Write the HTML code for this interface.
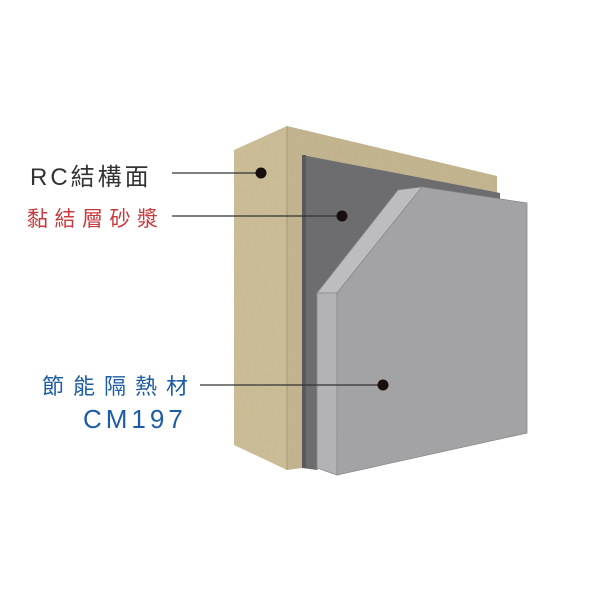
<!DOCTYPE html>
<html><head><meta charset="utf-8"><style>
html,body{margin:0;padding:0;background:#fff;width:600px;height:600px;overflow:hidden}
text{font-family:"Liberation Sans","Noto Sans CJK TC",sans-serif}
</style></head><body>
<svg width="600" height="600" viewBox="0 0 600 600" xmlns="http://www.w3.org/2000/svg">
<defs>
<filter id="n"><feTurbulence type="fractalNoise" baseFrequency="0.9" numOctaves="2" result="t"/><feColorMatrix in="t" type="matrix" values="0 0 0 0 0.6  0 0 0 0 0.55  0 0 0 0 0.4  0 0 0 0.35 0" result="c"/><feComposite in="c" in2="SourceGraphic" operator="in" result="m"/><feMerge><feMergeNode in="SourceGraphic"/><feMergeNode in="m"/></feMerge></filter>
</defs>
<polygon points="234,150 287,126 287,470 234,445" fill="#c9ba92" filter="url(#n)"/>
<polygon points="287,126 497,176 497,215 302,468 287,470" fill="#bfb088" filter="url(#n)"/>
<line x1="287" y1="126" x2="287" y2="470" stroke="#a89a72" stroke-width="1"/>
<polygon points="302,155 500,193 500,240 317,470 302,468" fill="#6d6d6f"/>
<polygon points="302,155 306,155 306,468 302,468" fill="#59595b"/>
<polygon points="317,293 398,190 422,187 337,293" fill="#bdbdbf" stroke="#8a8a8c" stroke-width="0.8"/>
<polygon points="317,293 337,293 337,475 317,468" fill="#b3b3b5" stroke="#8a8a8c" stroke-width="0.8"/>
<polygon points="337,293 422,187 527,203 527,433 337,475" fill="#a3a3a5" stroke="#8a8a8c" stroke-width="0.8"/>
<g stroke="#333" stroke-width="1.3">
<line x1="172" y1="173" x2="261" y2="173"/>
<line x1="172" y1="216" x2="342" y2="216"/>
<line x1="200" y1="385" x2="383" y2="385"/>
</g>
<g fill="#1a0f0f">
<circle cx="261" cy="173" r="5.5"/>
<circle cx="342" cy="216" r="5.5"/>
<circle cx="383" cy="385" r="5.5"/>
</g>
<text x="30" y="185" font-size="24" fill="#333" letter-spacing="3">RC結構面</text>
<text x="27" y="226" font-size="21" fill="#c83a3e" letter-spacing="6.5">黏結層砂漿</text>
<text x="42" y="394" font-size="22" fill="#1d5ca6" letter-spacing="9">節能隔熱材</text>
<text x="83" y="428" font-size="26" fill="#1d5ca6" letter-spacing="4">CM197</text>
</svg>
</body></html>
